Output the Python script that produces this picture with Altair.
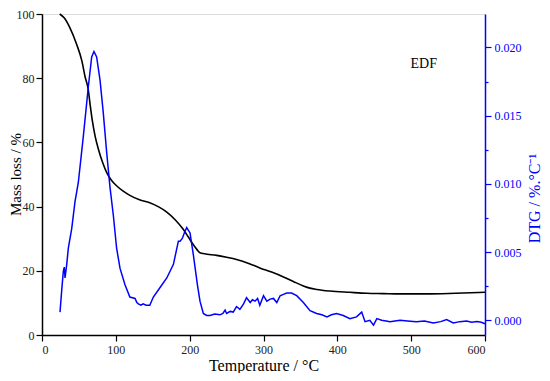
import altair as alt
import pandas as pd

# Mass loss (TG) curve
mass_T = [24, 30, 38, 47, 54, 58.5, 62.5, 65, 68, 72, 76.5, 82, 88, 94, 101, 110, 119, 132,
          146, 158, 169, 180, 191, 198, 205, 210, 214, 220, 236.5, 250, 263.5, 280, 295, 311,
          327, 341, 354, 363, 372, 390, 417, 440, 462, 485, 520, 560, 600]
mass_M = [100, 98.8, 95.6, 90.5, 85.4, 80.3, 76.7, 72.1, 67, 61.9, 57.8, 53.8, 50.4, 48.2,
          46.5, 44.8, 43.5, 42.1, 41.2, 39.9, 38.3, 36, 33, 30.6, 28.1, 26.6, 25.6, 25.3, 24.8,
          24.2, 23.5, 22.3, 20.9, 19.6, 18.1, 16.6, 15.3, 14.6, 14.2, 13.7, 13.3, 13.0, 12.9,
          12.8, 12.8, 13.0, 13.3]

# DTG curve (values x 1e-3)
dtg_T = [24.4, 26.7, 28.9, 30.2, 31.2, 33.5, 35.7, 40.2, 44.7, 49.2, 56, 62.7, 67.3, 70.4, 74,
         78.6, 83, 87.6, 92, 96.6, 101, 105.7, 112.4, 119, 126, 128.5, 130.5, 134, 137, 141,
         146, 150.8, 159.9, 169, 178, 184.7, 187, 190, 193.5, 196, 200.5, 205, 210.5, 214,
         218.5, 223, 227.5, 234, 241, 245, 248, 250, 255, 259, 263.5, 266, 268, 273, 277, 282,
         285, 288.5, 292, 295, 300, 304.5, 309, 313.5, 318, 322.5, 327, 331.5, 338, 345, 354,
         363, 372, 379, 386, 392, 399, 408, 417, 426, 433, 437.5, 444, 449, 453.5, 460, 466,
         471.5, 478, 485, 495, 507, 518, 530, 540, 548, 557, 566, 575, 582, 589, 595, 600]
dtg_D = [0.6, 2.2, 3.6, 3.9, 3.1, 4.1, 5.3, 6.7, 8.7, 10.1, 13.5, 17.1, 19.3, 19.7, 19.3,
         17.6, 15.2, 12.3, 9.8, 7.7, 5.3, 3.8, 2.6, 1.7, 1.6, 1.3, 1.2, 1.1, 1.2, 1.1,
         1.1, 1.7, 2.4, 3.1, 4.1, 5.8, 5.8, 6.0, 6.5, 6.8, 6.4, 4.8, 2.6, 1.4,
         0.5, 0.35, 0.35, 0.45, 0.4, 0.5, 0.75, 0.5, 0.65, 0.6, 1.0, 0.9, 0.8, 1.2, 1.65, 1.3,
         1.5, 1.4, 1.6, 1.1, 1.8, 1.4, 1.55, 1.6, 1.3, 1.8, 1.9, 2.0, 2.0, 1.8, 1.3,
         0.7, 0.5, 0.4, 0.25, 0.4, 0.5, 0.35, 0.12, 0.25, 0.6, -0.1, 0.0, -0.36, 0.12, 0.0, -0.05,
         -0.1, -0.05, 0.0, -0.05, -0.1, -0.05, -0.2, -0.1, 0.05, -0.2, -0.1, -0.05, -0.15, -0.1, -0.15, -0.25]

label_text = ["EDF"]
label_T = [517]
label_M = [84.4]

mass_df = pd.DataFrame({"T": mass_T, "M": mass_M})
dtg_df = pd.DataFrame({"T": dtg_T, "D": [d / 1000 for d in dtg_D]})
lab_df = pd.DataFrame({"T": label_T, "M": label_M, "text": label_text})

FONT = "Liberation Serif"
BLUE = "#0000ff"

x_axis = alt.Axis(
    title="Temperature / °C", values=list(range(0, 601, 50)),
    labelExpr="datum.value % 100 ? '' : datum.label",
    tickSize={"condition": {"test": "datum.value % 100 !== 0", "value": 3}, "value": 6},
    grid=False, domainColor="black", tickColor="black", domainWidth=1.5, tickWidth=1.2,
    labelFont=FONT, labelFontSize=12, labelColor="#222", labelPadding=3,
    titleFont=FONT, titleFontSize=16, titleFontWeight="normal", titleColor="black",
    titlePadding=2,
)
x = alt.X("T:Q", scale=alt.Scale(domain=[0, 600], nice=False, zero=False), axis=x_axis)

mass_axis = alt.Axis(
    title="Mass loss / %", values=list(range(0, 101, 10)),
    labelExpr="datum.value % 20 ? '' : datum.label",
    tickSize={"condition": {"test": "datum.value % 20 !== 0", "value": 3}, "value": 6},
    grid=False, domainColor="black", tickColor="black", domainWidth=1.5, tickWidth=1.2,
    labelFont=FONT, labelFontSize=12, labelColor="#222", labelPadding=2,
    titleFont=FONT, titleFontSize=15, titleFontWeight="normal", titleColor="black",
    titleX=-27, titleY=160, titleAngle=270, titleAlign="center", titleBaseline="middle",
)
dtg_axis = alt.Axis(
    title="DTG / %.°C⁻¹", orient="right",
    values=[0, 0.0025, 0.005, 0.0075, 0.01, 0.0125, 0.015, 0.0175, 0.02],
    format=".3f",
    labelExpr="round(datum.value * 10000) % 50 ? '' : datum.label",
    tickSize={"condition": {"test": "round(datum.value * 10000) % 50 !== 0", "value": 3}, "value": 6},
    grid=False, domainColor=BLUE, tickColor=BLUE, domainWidth=1.5, tickWidth=1.2,
    labelFont=FONT, labelFontSize=12, labelColor=BLUE, labelPadding=3,
    titleFont=FONT, titleFontSize=16, titleFontWeight="normal", titleColor=BLUE,
    titleX=49, titleY=184, titleAngle=270, titleAlign="center", titleBaseline="middle",
)

mass_line = alt.Chart(mass_df).mark_line(color="black", strokeWidth=1.6, interpolate="monotone").encode(
    x=x,
    y=alt.Y("M:Q", scale=alt.Scale(domain=[0, 100], nice=False), axis=mass_axis),
)
label = alt.Chart(lab_df).mark_text(font=FONT, fontSize=14, color="black").encode(
    x=alt.X("T:Q"), y=alt.Y("M:Q"), text="text:N"
)
left = mass_line + label

dtg_line = alt.Chart(dtg_df).mark_line(color=BLUE, strokeWidth=1.5).encode(
    x=x,
    y=alt.Y("D:Q", scale=alt.Scale(domain=[-0.00108, 0.02245], nice=False, zero=False), axis=dtg_axis),
)

chart = alt.layer(left, dtg_line).resolve_scale(y="independent").properties(
    width=443, height=321,
    padding={"left": 34, "top": 6, "right": 57, "bottom": 38},
    autosize="none",
).configure_view(stroke="black", strokeWidth=1.2).configure(background="white")

chart.save("out.html", embed_options={"renderer": "svg", "actions": False})
